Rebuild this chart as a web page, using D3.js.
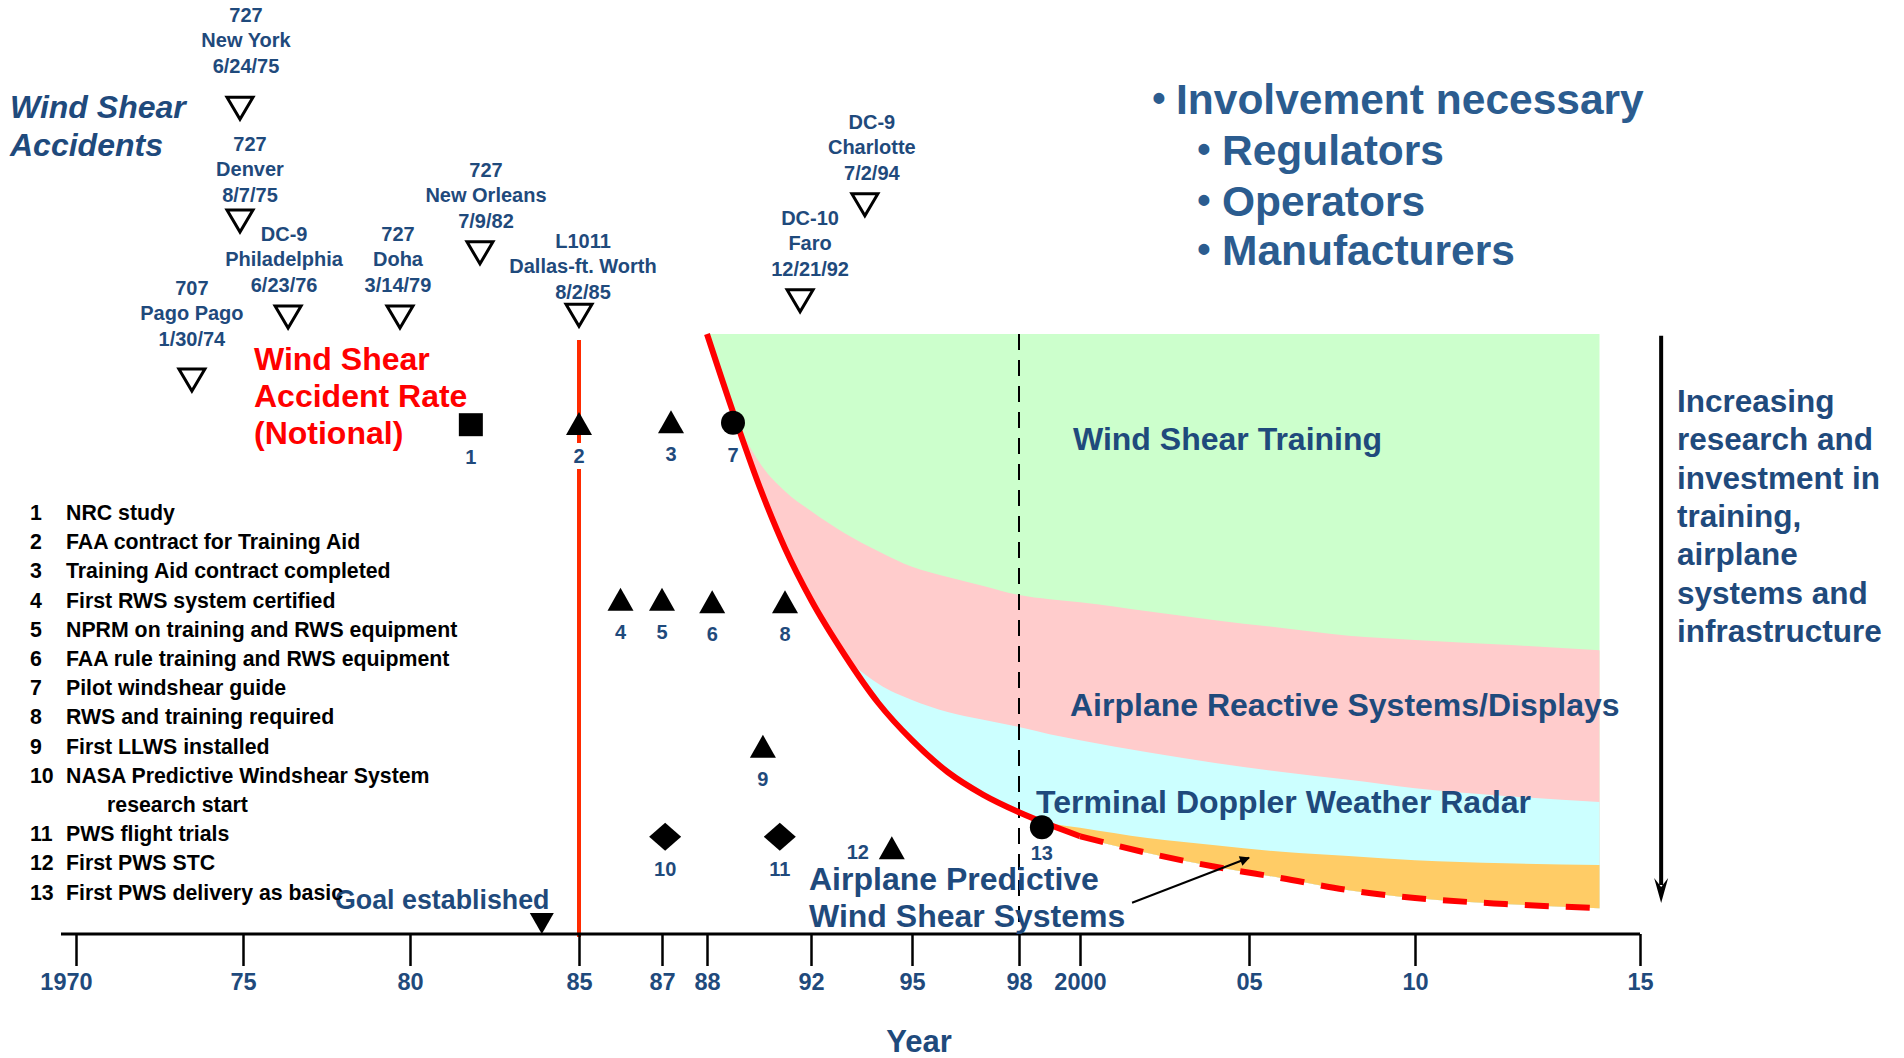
<!DOCTYPE html>
<html>
<head>
<meta charset="utf-8">
<script src="https://cdn.jsdelivr.net/npm/d3@7"></script>
<style>
  body { margin: 0; background: #fff; }
  svg text { font-family: "Liberation Sans", Arial, sans-serif; font-weight: bold; }
</style>
</head>
<body>
<script>
/***** Data *****/
// time axis
const tickYears = [1970, 1975, 1980, 1985, 1987, 1988, 1992, 1995, 1998, 2000, 2005, 2010, 2015];
const tickLabels = ["1970", "75", "80", "85", "87", "88", "92", "95", "98", "2000", "05", "10", "15"];

// wind shear accidents (open triangles), level = notional height on the chart
const accidentLabels = [
  ["707", "Pago Pago", "1/30/74"],
  ["727", "New York", "6/24/75"],
  ["727", "Denver", "8/7/75"],
  ["DC-9", "Philadelphia", "6/23/76"],
  ["727", "Doha", "3/14/79"],
  ["727", "New Orleans", "7/9/82"],
  ["L1011", "Dallas-ft. Worth", "8/2/85"],
  ["DC-10", "Faro", "12/21/92"],
  ["DC-9", "Charlotte", "7/2/94"]
];
const accidentYears = [1973.47, 1974.91, 1974.91, 1976.35, 1979.7, 1982.07, 1985, 1991.58, 1993.6];
const accidentLevels = [92.5, 137.8, 119, 103, 103, 113.7, 103.3, 105.7, 121.7];

// numbered milestones
const eventIds = [1, 2, 3, 4, 5, 6, 7, 8, 9, 10, 11, 12, 13];
const eventYears = [1981.8, 1985, 1987.2, 1986, 1987, 1988.2, 1989, 1991, 1990.15, 1987.07, 1990.8, 1994.4, 1998.75];
const eventLevels = [84.8, 85, 85.3, 55.7, 55.7, 55.3, 85.2, 55.3, 31.2, 16.2, 16.2, 14.3, 17.8];
const eventShapes = ["square", "triangle", "triangle", "triangle", "triangle", "triangle", "circle",
                     "triangle", "triangle", "diamond", "diamond", "triangle", "circle"];
const eventNotes = [
  "NRC study",
  "FAA contract for Training Aid",
  "Training Aid contract completed",
  "First RWS system certified",
  "NPRM on training and RWS equipment",
  "FAA rule training and RWS equipment",
  "Pilot windshear guide",
  "RWS and training required",
  "First LLWS installed",
  "NASA Predictive Windshear System\nresearch start",
  "PWS flight trials",
  "First PWS STC",
  "First PWS delivery as basic"
];

// notional accident rate and stacked mitigation bands (0-100 notional units)
const curveYears   = [1988, 1989, 1990, 1991, 1992, 1993, 1994, 1995, 1996, 1997, 1998, 1999, 2000, 2002, 2004, 2006, 2008, 2010, 2012, 2014.1];
const accidentRate = [100, 87, 74.8, 64.3, 55.7, 46.5, 38.5, 32.3, 27, 23.2, 20.3, 18.2, 16.3, 13.5, 11.2, 9.3, 7.3, 6, 5, 4.3];
const trainingTop  = [100, 100, 100, 100, 100, 100, 100, 100, 100, 100, 100, 100, 100, 100, 100, 100, 100, 100, 100, 100];
const reactiveTop  = [100, 87, 78.7, 73.8, 70.5, 66.8, 63.8, 61.2, 59.5, 58, 56.5, 55.8, 55.3, 53.8, 52.3, 51, 49.7, 49, 48.2, 47.3];
const tdwrTop      = [100, 87, 74.8, 64.3, 55.7, 46.5, 41.7, 39, 37, 35.7, 34.5, 33.3, 32.3, 30.3, 28.5, 27, 25.7, 24.3, 23, 22];
const pwsTop       = [100, 87, 74.8, 64.3, 55.7, 46.5, 38.5, 32.3, 27, 23.2, 20.3, 18.5, 17.7, 16, 14.8, 13.7, 13, 12.3, 11.8, 11.5];
const solidUntil = 2000;
const goalYear = 1983.9;
const trainingStartYear = 1985;   // red vertical line
const pwsStartYear = 1998;        // dashed vertical line

/***** Configuration *****/
const W = 1904, H = 1058;
const axisY = 934;
const BLUE = "#1f4a7c";
const BULLET_BLUE = "#2b5c8f";
// hand drawn time axis: tick pixel stops (not evenly spaced in the original)
const tickStops = [76, 243, 410, 579, 662, 707, 811, 912, 1019, 1080, 1249, 1415, 1640];
// nudges of the accident captions so they sit like the original
const accidentCaptionShift = [[0, -9], [6, -10], [10, 6], [-4, 0], [-2, 0], [6, 0], [4, 9], [10, 0], [7, 0]];

const x = d3.scaleLinear().domain(tickYears).range(tickStops);
const y = d3.scaleLinear().domain([0, 100]).range([axisY, 334]);

const svg = d3.select("body").append("svg")
  .attr("width", W).attr("height", H)
  .style("display", "block");

svg.append("defs").append("marker")
  .attr("id", "head")
  .attr("viewBox", "0 0 10 10")
  .attr("refX", 9).attr("refY", 5)
  .attr("markerWidth", 12).attr("markerHeight", 10)
  .attr("markerUnits", "userSpaceOnUse")
  .attr("orient", "auto")
  .append("path").attr("d", "M0,0L10,5L0,10Z").attr("fill", "#000");

/***** Bands *****/
const rows = curveYears.map((yr, i) => ({
  year: yr, rate: accidentRate[i], training: trainingTop[i],
  reactive: reactiveTop[i], tdwr: tdwrTop[i], pws: pwsTop[i]
}));

const bandArea = key => d3.area()
  .x(d => x(d.year))
  .y0(d => y(d.rate))
  .y1(d => y(d[key]))
  .curve(d3.curveMonotoneX);

const bands = [
  { key: "training", color: "#ccffcc" },
  { key: "reactive", color: "#ffcccc" },
  { key: "tdwr", color: "#ccffff" },
  { key: "pws", color: "#ffcc66" }
];
bands.forEach(b => {
  svg.append("path").datum(rows).attr("d", bandArea(b.key)).attr("fill", b.color);
});

/***** Vertical reference lines *****/
svg.append("line")
  .attr("x1", x(trainingStartYear)).attr("x2", x(trainingStartYear))
  .attr("y1", y(99)).attr("y2", axisY + 3)
  .attr("stroke", "#ff2a00").attr("stroke-width", 4);

svg.append("line")
  .attr("x1", x(pwsStartYear)).attr("x2", x(pwsStartYear))
  .attr("y1", y(100)).attr("y2", axisY)
  .attr("stroke", "#000").attr("stroke-width", 2)
  .attr("stroke-dasharray", "16,10");

/***** Axis *****/
svg.append("line")
  .attr("x1", x(1970) - 15).attr("x2", x(2015))
  .attr("y1", axisY).attr("y2", axisY)
  .attr("stroke", "#000").attr("stroke-width", 3);

const xAxis = d3.axisBottom(x)
  .tickValues(tickYears)
  .tickFormat((d, i) => tickLabels[i])
  .tickSize(32)
  .tickPadding(7);

const axisG = svg.append("g").attr("transform", `translate(0,${axisY})`).call(xAxis);
axisG.select(".domain").remove();
axisG.selectAll(".tick line").attr("stroke", "#000").attr("stroke-width", 2.5);
axisG.selectAll(".tick text")
  .attr("fill", BLUE)
  .attr("dx", (d, i) => i === 0 ? -10 : 0)
  .style("font-size", "23.5px")
  .style("font-family", "'Liberation Sans', Arial, sans-serif")
  .style("font-weight", "bold");

svg.append("text").attr("x", 919).attr("y", 1052)
  .attr("text-anchor", "middle").attr("fill", BLUE)
  .style("font-size", "31px").text("Year");

// goal established marker
svg.append("path")
  .attr("transform", `translate(${x(goalYear)},${axisY})`)
  .attr("d", "M-12,-21H12L0,0Z").attr("fill", "#000");
svg.append("text").attr("x", 335).attr("y", 909)
  .attr("fill", BLUE).style("font-size", "26.8px").text("Goal established");

/***** Milestone labels (white background cuts the red line) *****/
const events = eventIds.map((id, i) => ({
  id, year: eventYears[i], level: eventLevels[i], shape: eventShapes[i]
}));

const labelG = svg.append("g");
events.forEach(e => {
  const cx = x(e.year), cy = y(e.level);
  const left = e.id === 12;
  const lx = left ? cx - 34 : cx;
  const ly = left ? cy + 4 : cy + (e.id === 13 ? 26 : 32);
  const wBox = String(e.id).length * 11 + 4;
  labelG.append("rect")
    .attr("x", lx - wBox / 2).attr("y", ly - 13)
    .attr("width", wBox).attr("height", 26)
    .attr("fill", "#fff");
  labelG.append("text")
    .attr("x", lx).attr("y", ly + 7)
    .attr("text-anchor", "middle").attr("fill", BLUE)
    .style("font-size", "20px").text(e.id);
});

/***** Notional accident rate *****/
const rateLine = d3.line().x(d => x(d.year)).y(d => y(d.rate)).curve(d3.curveMonotoneX);
svg.append("path").datum(rows.filter(d => d.year <= solidUntil))
  .attr("d", rateLine).attr("fill", "none")
  .attr("stroke", "#ff0000").attr("stroke-width", 6);
svg.append("path").datum(rows.filter(d => d.year >= solidUntil))
  .attr("d", rateLine).attr("fill", "none")
  .attr("stroke", "#ff0000").attr("stroke-width", 6)
  .attr("stroke-dasharray", "24,17");

/***** Milestone markers *****/
const shapePath = {
  square: "M-12,-12H12V11H-12Z",
  triangle: "M0,-12L13,11H-13Z",
  diamond: "M0,-14L16,0L0,14L-16,0Z"
};
events.forEach(e => {
  const g = svg.append("g").attr("transform", `translate(${x(e.year)},${y(e.level)})`);
  if (e.shape === "circle") g.append("circle").attr("r", 12).attr("fill", "#000");
  else g.append("path").attr("d", shapePath[e.shape]).attr("fill", "#000");
});

/***** Accidents *****/
accidentLabels.forEach((lines, i) => {
  const cx = x(accidentYears[i]), cy = y(accidentLevels[i]);
  const [sx, sy] = accidentCaptionShift[i];
  svg.append("path")
    .attr("transform", `translate(${cx},${cy})`)
    .attr("d", "M-13,-10H13L0,12Z")
    .attr("fill", "#fff").attr("stroke", "#000").attr("stroke-width", 3);
  const offsets = [-75, -50, -24];
  lines.forEach((t, j) => {
    svg.append("text").attr("x", cx + sx).attr("y", cy + offsets[j] + sy)
      .attr("text-anchor", "middle").attr("fill", BLUE)
      .style("font-size", "20px").text(t);
  });
});

svg.append("text").attr("x", 10).attr("y", 118)
  .attr("fill", BLUE).style("font-size", "32px").style("font-style", "italic").text("Wind Shear");
svg.append("text").attr("x", 10).attr("y", 156)
  .attr("fill", BLUE).style("font-size", "32px").style("font-style", "italic").text("Accidents");

["Wind Shear", "Accident Rate", "(Notional)"].forEach((t, i) => {
  svg.append("text").attr("x", 254).attr("y", 370 + i * 37)
    .attr("fill", "#ff0000").style("font-size", "32px").text(t);
});

/***** Milestone legend *****/
let row = 0;
eventNotes.forEach((note, i) => {
  note.split("\n").forEach((line, j) => {
    const ty = 520 + row * 29.2;
    if (j === 0) {
      svg.append("text").attr("x", 30).attr("y", ty)
        .attr("fill", "#000").style("font-size", "21.3px").text(eventIds[i]);
    }
    svg.append("text").attr("x", j === 0 ? 66 : 107).attr("y", ty)
      .attr("fill", "#000").style("font-size", "21.3px").text(line);
    row++;
  });
});

/***** Band labels *****/
const bandLabels = [
  { t: "Wind Shear Training", x: 1073, y: 450 },
  { t: "Airplane Reactive Systems/Displays", x: 1070, y: 716 },
  { t: "Terminal Doppler Weather Radar", x: 1036, y: 813 },
  { t: "Airplane Predictive", x: 809, y: 890 },
  { t: "Wind Shear Systems", x: 809, y: 927 }
];
bandLabels.forEach(b => {
  svg.append("text").attr("x", b.x).attr("y", b.y)
    .attr("fill", BLUE).style("font-size", "32px").text(b.t);
});

// pointer to the predictive systems band
svg.append("line")
  .attr("x1", x(2001.54)).attr("y1", y(5.2))
  .attr("x2", x(2005)).attr("y2", y(12.7))
  .attr("stroke", "#000").attr("stroke-width", 2)
  .attr("marker-end", "url(#head)");

/***** Right hand arrow and note *****/
const arrowX = x(2015.47);
svg.append("line")
  .attr("x1", arrowX).attr("x2", arrowX)
  .attr("y1", y(99.7)).attr("y2", 885)
  .attr("stroke", "#000").attr("stroke-width", 4);
svg.append("path")
  .attr("transform", `translate(${arrowX},903)`)
  .attr("d", "M-7,-25L0,-16L7,-25L0,0Z").attr("fill", "#000");

["Increasing", "research and", "investment in", "training,", "airplane", "systems and", "infrastructure"]
  .forEach((t, i) => {
    svg.append("text").attr("x", 1677).attr("y", 412 + i * 38.3)
      .attr("fill", BLUE).style("font-size", "31.5px").text(t);
  });

/***** Top right bullets *****/
const bullets = [
  { t: "Involvement necessary", bx: 1159, tx: 1176, y: 114 },
  { t: "Regulators", bx: 1204, tx: 1222, y: 165 },
  { t: "Operators", bx: 1204, tx: 1222, y: 216 },
  { t: "Manufacturers", bx: 1204, tx: 1222, y: 265 }
];
bullets.forEach(b => {
  svg.append("text").attr("x", b.bx).attr("y", b.y - 3)
    .attr("text-anchor", "middle").attr("fill", BULLET_BLUE)
    .style("font-size", "38px").text("\u2022");
  svg.append("text").attr("x", b.tx).attr("y", b.y)
    .attr("fill", BULLET_BLUE).style("font-size", "42.5px").text(b.t);
});
</script>
</body>
</html>
